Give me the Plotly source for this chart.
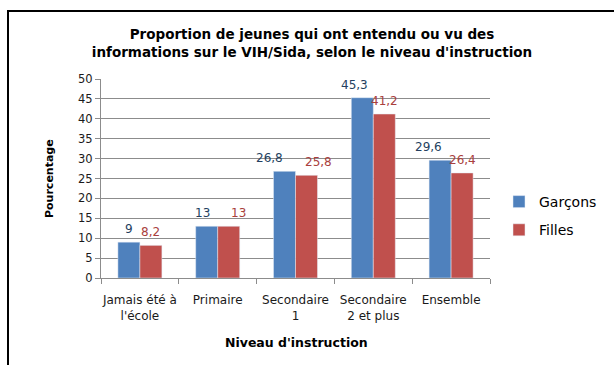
import plotly.graph_objects as go

# Data
categories = ["Jamais été à<br>l'école", "Primaire", "Secondaire<br>1",
              "Secondaire<br>2 et plus", "Ensemble"]
garcons = [9, 13, 26.8, 45.3, 29.6]
filles = [8.2, 13, 25.8, 41.2, 26.4]
y_ticks = list(range(0, 55, 5))

# horizontal nudges (px) of the value labels so neighbouring labels stay apart
garcons_nudge = [0, -4, -15, -8, -12]
filles_nudge = [0, 10, 12, 0, 0]

BLUE = "#4F81BD"
RED = "#C0504D"
BLUE_TXT = "#243F60"
RED_TXT = "#A9403D"
GRID = "#8C8C8C"
FONT = "DejaVu Sans"

W, H = 614, 365
ML, MR, MT, MB = 101, 124, 79, 87
PW, PH = W - ML - MR, H - MT - MB
BARGAP = 0.4345


def px_x(px):
    """Pixel column -> paper x."""
    return (px - ML) / PW


def px_y(py):
    """Pixel row -> paper y."""
    return (H - MB - py) / PH


def fr(v):
    return f"{v:g}".replace(".", ",")


fig = go.Figure()
fig.add_trace(go.Bar(name="Garçons", x=categories, y=garcons,
                     marker=dict(color=BLUE), legendgroup="g"))
fig.add_trace(go.Bar(name="Filles", x=categories, y=filles,
                     marker=dict(color=RED), legendgroup="f"))

annotations = []
half_bar = PW / len(categories) * (1 - BARGAP) / 4
for vals, nudges, col, sh in ((garcons, garcons_nudge, BLUE_TXT, -half_bar),
                              (filles, filles_nudge, RED_TXT, half_bar)):
    for c, v, n in zip(categories, vals, nudges):
        annotations.append(dict(x=c, y=v, xref="x", yref="y", text=fr(v),
                                showarrow=False, xshift=sh + n, yshift=4,
                                yanchor="bottom",
                                font=dict(family=FONT, size=12, color=col)))

# axis titles
annotations.append(dict(x=px_x(296), y=px_y(342), xref="paper", yref="paper",
                        text="<b>Niveau d'instruction</b>", showarrow=False,
                        xanchor="center", yanchor="middle",
                        font=dict(family=FONT, size=12.5, color="#000")))
annotations.append(dict(x=px_x(49), y=px_y(179), xref="paper", yref="paper",
                        text="<b>Pourcentage</b>", showarrow=False, textangle=-90,
                        xanchor="center", yanchor="middle",
                        font=dict(family=FONT, size=11, color="#000")))

fig.update_layout(
    width=W, height=H,
    margin=dict(l=ML, r=MR, t=MT, b=MB),
    paper_bgcolor="white", plot_bgcolor="white",
    barmode="group", bargap=BARGAP, bargroupgap=0,
    title=dict(text="<b>Proportion de jeunes qui ont entendu ou vu des<br>"
                    "informations sur le VIH/Sida, selon le niveau d'instruction</b>",
               x=312 / W, xanchor="center", xref="container",
               y=1 - 39 / H, yanchor="top", yref="container",
               font=dict(family=FONT, size=13.5, color="#000")),
    legend=dict(x=px_x(499), y=px_y(216), xanchor="left", yanchor="middle",
                font=dict(family=FONT, size=14, color="#000"),
                tracegroupgap=7, bgcolor="rgba(0,0,0,0)"),
    annotations=annotations,
    shapes=[dict(type="rect", xref="paper", yref="paper",
                 x0=px_x(8), x1=px_x(620), y0=px_y(370), y1=px_y(11),
                 line=dict(color="#000", width=2), fillcolor="rgba(0,0,0,0)",
                 layer="below")],
    font=dict(family=FONT, color="#262626"),
)
fig.update_xaxes(showline=True, linecolor=GRID, linewidth=1, tickangle=0,
                 ticks="outside", tickson="boundaries", ticklen=5, tickcolor=GRID,
                 ticklabelstandoff=11,
                 showgrid=False, tickfont=dict(family=FONT, size=12, color="#1a1a1a"))
fig.update_yaxes(range=[0, 50], tickvals=y_ticks, showline=True, linecolor=GRID,
                 linewidth=1, ticks="outside", ticklen=5, tickcolor=GRID,
                 showgrid=True, gridcolor=GRID, gridwidth=1, zeroline=False,
                 tickfont=dict(family=FONT, size=11.5, color="#1a1a1a"))

fig.write_html("out.html")
